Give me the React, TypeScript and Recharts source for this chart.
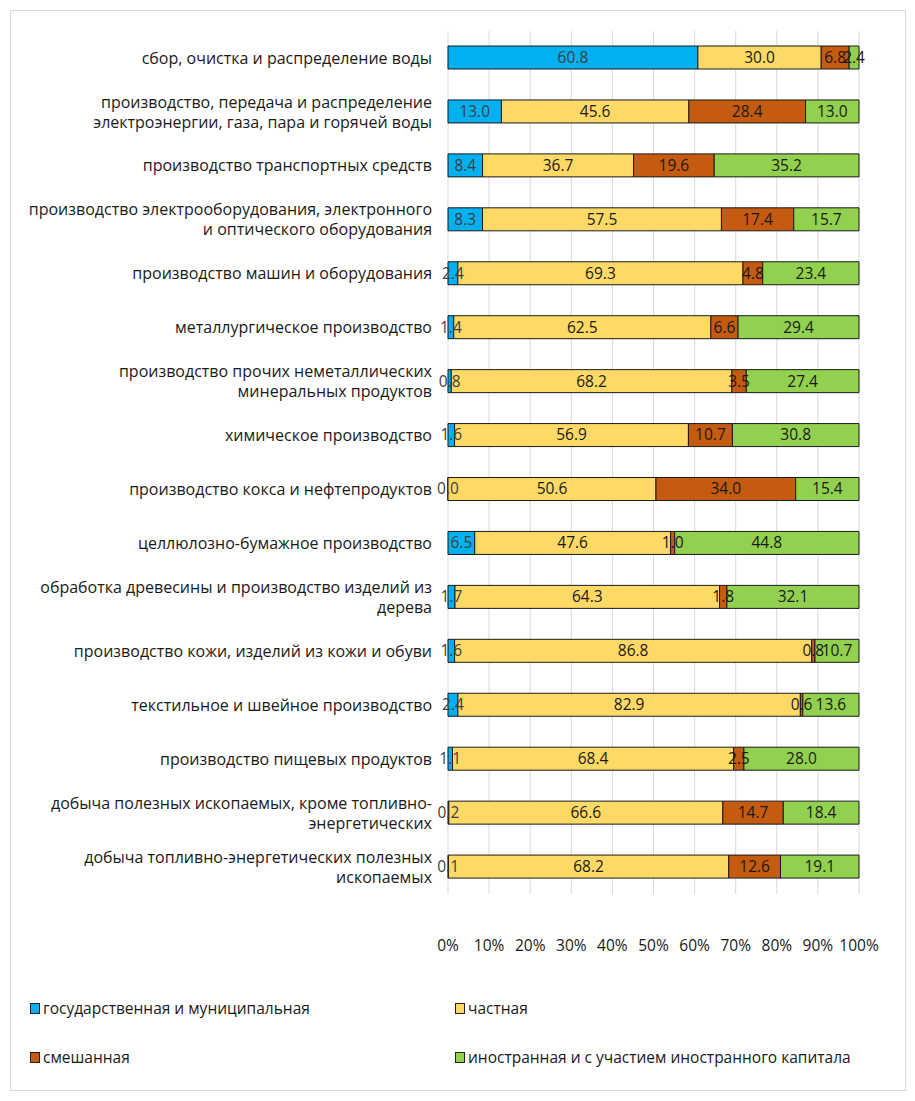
import React from "react";
import {
  BarChart,
  Bar,
  XAxis,
  YAxis,
  CartesianGrid,
  LabelList,
} from "recharts";

const categories = [
  "сбор, очистка и распределение воды",
  "производство, передача и распределение\nэлектроэнергии, газа, пара и горячей воды",
  "производство транспортных средств",
  "производство электрооборудования, электронного\nи оптического оборудования",
  "производство машин и оборудования",
  "металлургическое производство",
  "производство прочих неметаллических\nминеральных продуктов",
  "химическое производство",
  "производство кокса и нефтепродуктов",
  "целлюлозно-бумажное производство",
  "обработка древесины и производство изделий из\nдерева",
  "производство кожи, изделий из кожи и обуви",
  "текстильное и швейное производство",
  "производство пищевых продуктов",
  "добыча полезных ископаемых, кроме топливно-\nэнергетических",
  "добыча топливно-энергетических полезных\nископаемых",
];

const gov = [60.8, 13.0, 8.4, 8.3, 2.4, 1.4, 0.8, 1.6, 0.0, 6.5, 1.7, 1.6, 2.4, 1.1, 0.2, 0.1];
const priv = [30.0, 45.6, 36.7, 57.5, 69.3, 62.5, 68.2, 56.9, 50.6, 47.6, 64.3, 86.8, 82.9, 68.4, 66.6, 68.2];
const mixed = [6.8, 28.4, 19.6, 17.4, 4.8, 6.6, 3.5, 10.7, 34.0, 1.0, 1.8, 0.8, 0.6, 2.5, 14.7, 12.6];
const foreign = [2.4, 13.0, 35.2, 15.7, 23.4, 29.4, 27.4, 30.8, 15.4, 44.8, 32.1, 10.7, 13.6, 28.0, 18.4, 19.1];

const seriesNames = [
  "государственная и муниципальная",
  "частная",
  "смешанная",
  "иностранная и с участием иностранного капитала",
];

const xTicks = [0, 0.1, 0.2, 0.3, 0.4, 0.5, 0.6, 0.7, 0.8, 0.9, 1];

const data = categories.map((name, i) => ({
  name,
  gov: gov[i],
  priv: priv[i],
  mixed: mixed[i],
  foreign: foreign[i],
}));

const FONT = "'Open Sans', 'Noto Sans', sans-serif";
const FS = 15.5;
const CAT_FS = 16;

const series = [
  { key: "gov", name: seriesNames[0], color: "#00B0F0", text: "#404040" },
  { key: "priv", name: seriesNames[1], color: "#FFD966", text: "#1a1a1a" },
  { key: "mixed", name: seriesNames[2], color: "#C55A11", text: "#1a1a1a" },
  { key: "foreign", name: seriesNames[3], color: "#92D050", text: "#1a1a1a" },
];

const CategoryTick = (props: any) => {
  const { y, payload } = props;
  const lines: string[] = String(payload.value).split("\n");
  const lh = 20;
  const startY = y - ((lines.length - 1) * lh) / 2;
  return (
    <text
      x={432}
      y={startY}
      textAnchor="end"
      fontSize={CAT_FS}
      fontFamily={FONT}
      fill="#1a1a1a"
    >
      {lines.map((l, i) => (
        <tspan key={i} x={432} y={startY + i * lh} dy="0.35em">
          {l}
        </tspan>
      ))}
    </text>
  );
};

const PercentTick = (props: any) => {
  const { x, payload } = props;
  return (
    <text
      x={x}
      y={946}
      textAnchor="middle"
      dy="0.35em"
      fontSize={FS}
      fontFamily={FONT}
      fill="#1a1a1a"
    >
      {Math.round(payload.value * 100)}%
    </text>
  );
};

const makeLabel = (color: string) => (props: any) => {
  const { x, y, width, height, value } = props;
  return (
    <text
      x={x + width / 2}
      y={y + height / 2}
      dy="0.35em"
      textAnchor="middle"
      fontSize={FS}
      fontFamily={FONT}
      fill={color}
    >
      {Number(value).toFixed(1)}
    </text>
  );
};

const LegendBox = () => {
  const pos = [
    { left: 30, top: 1008 },
    { left: 455, top: 1008 },
    { left: 30, top: 1057 },
    { left: 455, top: 1057 },
  ];
  return (
    <>
      {series.map((s, i) => (
        <div
          key={s.key}
          style={{
            position: "absolute",
            left: pos[i].left,
            top: pos[i].top - 10,
            height: 20,
            display: "flex",
            alignItems: "center",
            fontFamily: FONT,
            fontSize: FS,
            color: "#1a1a1a",
            whiteSpace: "nowrap",
          }}
        >
          <span
            style={{
              display: "inline-block",
              width: 8,
              height: 9,
              background: s.color,
              border: "1px solid #222",
              marginRight: 3,
            }}
          />
          {s.name}
        </div>
      ))}
    </>
  );
};

export default function App() {
  return (
    <div
      style={{
        position: "absolute",
        left: 0,
        top: 0,
        width: 915,
        height: 1101,
        background: "#fff",
      }}
    >
      <div
        style={{
          position: "absolute",
          left: 10,
          top: 10,
          width: 894,
          height: 1079,
          border: "1px solid #d9d9d9",
        }}
      />
      <BarChart
        width={915}
        height={1101}
        data={data}
        layout="vertical"
        stackOffset="expand"
        barSize={23}
        margin={{ top: 31, right: 56, bottom: 147, left: 8 }}
      >
        <CartesianGrid horizontal={false} stroke="#d9d9d9" />
        <XAxis
          type="number"
          domain={[0, 1]}
          ticks={xTicks}
          axisLine={false}
          tickLine={false}
          tick={<PercentTick />}
          height={60}
        />
        <YAxis
          type="category"
          dataKey="name"
          width={440}
          axisLine={false}
          tickLine={false}
          interval={0}
          tick={<CategoryTick />}
        />
        {series.map((s) => (
          <Bar
            key={s.key}
            dataKey={s.key}
            name={s.name}
            stackId="a"
            fill={s.color}
            stroke="#1a1a1a"
            strokeWidth={1}
            minPointSize={s.key === "gov" ? 0.01 : 0}
            isAnimationActive={false}
          >
            <LabelList dataKey={s.key} content={makeLabel(s.text)} />
          </Bar>
        ))}
      </BarChart>
      <LegendBox />
    </div>
  );
}
